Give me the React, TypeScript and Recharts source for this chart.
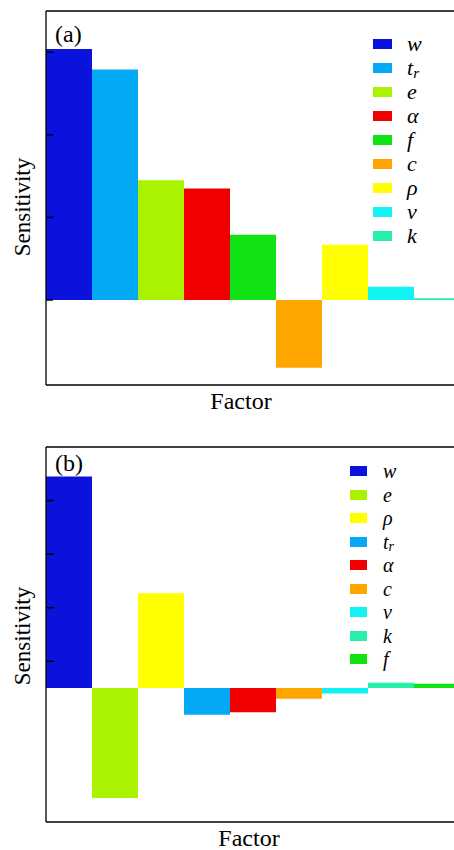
import { BarChart, Bar, Cell, XAxis, YAxis } from "recharts";

// factor order and sensitivity values for each panel
const factorsA = ["w", "t_r", "e", "α", "f", "c", "ρ", "v", "k"];
const sensitivityA = [3.04, 2.79, 1.45, 1.35, 0.79, -0.82, 0.67, 0.16, 0.02];
const ticksA = [0, 1, 2, 3];

const factorsB = ["w", "e", "ρ", "t_r", "α", "c", "v", "k", "f"];
const sensitivityB = [3.95, -2.05, 1.77, -0.5, -0.45, -0.2, -0.1, 0.1, 0.08];
const ticksB = [0.5, 1.5, 2.5, 3.5];

const factorColors: Record<string, string> = {
  w: "#0a12dc",
  t_r: "#03a9f4",
  e: "#aaf200",
  "α": "#f20000",
  f: "#10e214",
  c: "#ffa500",
  "ρ": "#ffff00",
  v: "#12f2f2",
  k: "#28f0a8",
};

const SERIF = '"Liberation Serif", "Times New Roman", serif';

function FactorName({ name }: { name: string }) {
  if (name === "t_r") {
    return (
      <span>
        t
        <span style={{ position: "relative", top: "0.2em", fontSize: "0.7em", lineHeight: 0 }}>r</span>
      </span>
    );
  }
  return <span>{name}</span>;
}

// tick labels are hidden, only the inward tick marks are kept
const NoLabel = () => <g />;

type PanelProps = {
  tag: string;
  factors: string[];
  values: number[];
  ticks: number[];
  domain: [number, number];
  top: number;
  height: number;
  marginTop: number;
  marginBottom: number;
  tickSize: number;
  tagTop: number;
  ylabelY: number;
  xlabelX: number;
  xlabelTop: number;
  legendX: number;
  legendY: number;
  legendStep: number;
  legendFont: number;
  swatchW: number;
  labelX: number;
};

function Panel(p: PanelProps) {
  const data = p.factors.map((f, i) => ({ factor: f, value: p.values[i] }));
  return (
    <div style={{ position: "absolute", left: 0, top: p.top, width: 454, height: p.height }}>
      <BarChart
        width={470}
        height={p.height}
        data={data}
        margin={{ top: p.marginTop - 1, left: 46, right: 10, bottom: p.marginBottom - 1 }}
        barCategoryGap={0}
        barGap={0}
      >
        <Bar dataKey="value" isAnimationActive={false}>
          {data.map((d) => (
            <Cell key={d.factor} fill={factorColors[d.factor]} />
          ))}
        </Bar>
        <XAxis dataKey="factor" height={1} tick={false} tickLine={false} axisLine={{ stroke: "#000", strokeWidth: 1.3 }} />
        <XAxis
          xAxisId="top"
          orientation="top"
          dataKey="factor"
          height={1}
          tick={false}
          tickLine={false}
          axisLine={{ stroke: "#000", strokeWidth: 1.3 }}
        />
        <YAxis
          type="number"
          domain={p.domain}
          ticks={p.ticks}
          mirror
          width={1}
          tick={NoLabel}
          tickSize={p.tickSize}
          tickLine={{ stroke: "#000", strokeWidth: 1.5 }}
          axisLine={{ stroke: "#000", strokeWidth: 1.3 }}
        />
      </BarChart>

      <div style={{ position: "absolute", left: 55, top: p.tagTop, fontSize: 24, lineHeight: 1, fontFamily: SERIF }}>
        {p.tag}
      </div>
      <div
        style={{
          position: "absolute",
          left: 22,
          top: p.ylabelY,
          transform: "translate(-50%, -50%) rotate(-90deg)",
          fontSize: 23,
          lineHeight: 1,
          whiteSpace: "nowrap",
          fontFamily: SERIF,
        }}
      >
        Sensitivity
      </div>
      <div
        style={{
          position: "absolute",
          left: p.xlabelX,
          top: p.xlabelTop,
          transform: "translateX(-50%)",
          fontSize: 24,
          lineHeight: 1,
          whiteSpace: "nowrap",
          fontFamily: SERIF,
        }}
      >
        Factor
      </div>

      {p.factors.map((f, i) => (
        <div key={f} style={{ position: "absolute", left: p.legendX, top: p.legendY + i * p.legendStep - 11, height: 22, width: 70 }}>
          <div
            style={{
              position: "absolute",
              left: 0,
              top: 6,
              width: p.swatchW,
              height: 10,
              background: factorColors[f],
            }}
          />
          <div
            style={{
              position: "absolute",
              left: p.labelX - p.legendX,
              top: 1,
              fontSize: p.legendFont,
              lineHeight: "20px",
              fontStyle: "italic",
              fontFamily: SERIF,
            }}
          >
            <FactorName name={f} />
          </div>
        </div>
      ))}
    </div>
  );
}

export default function App() {
  return (
    <div style={{ position: "absolute", left: 0, top: 0, width: 454, height: 850, overflow: "hidden", background: "#fff" }}>
      <Panel
        tag="(a)"
        factors={factorsA}
        values={sensitivityA}
        ticks={ticksA}
        domain={[-1.03, 3.5]}
        top={0}
        height={420}
        marginTop={11}
        marginBottom={35}
        tickSize={7}
        tagTop={22}
        ylabelY={207}
        xlabelX={241}
        xlabelTop={389}
        legendX={373}
        legendY={44}
        legendStep={24}
        legendFont={22}
        swatchW={19}
        labelX={407}
      />
      <Panel
        tag="(b)"
        factors={factorsB}
        values={sensitivityB}
        ticks={ticksB}
        domain={[-2.5, 4.5]}
        top={420}
        height={430}
        marginTop={27}
        marginBottom={28}
        tickSize={8}
        tagTop={31}
        ylabelY={216}
        xlabelX={249}
        xlabelTop={406}
        legendX={350}
        legendY={51}
        legendStep={23.5}
        legendFont={20}
        swatchW={17}
        labelX={383}
      />
    </div>
  );
}
